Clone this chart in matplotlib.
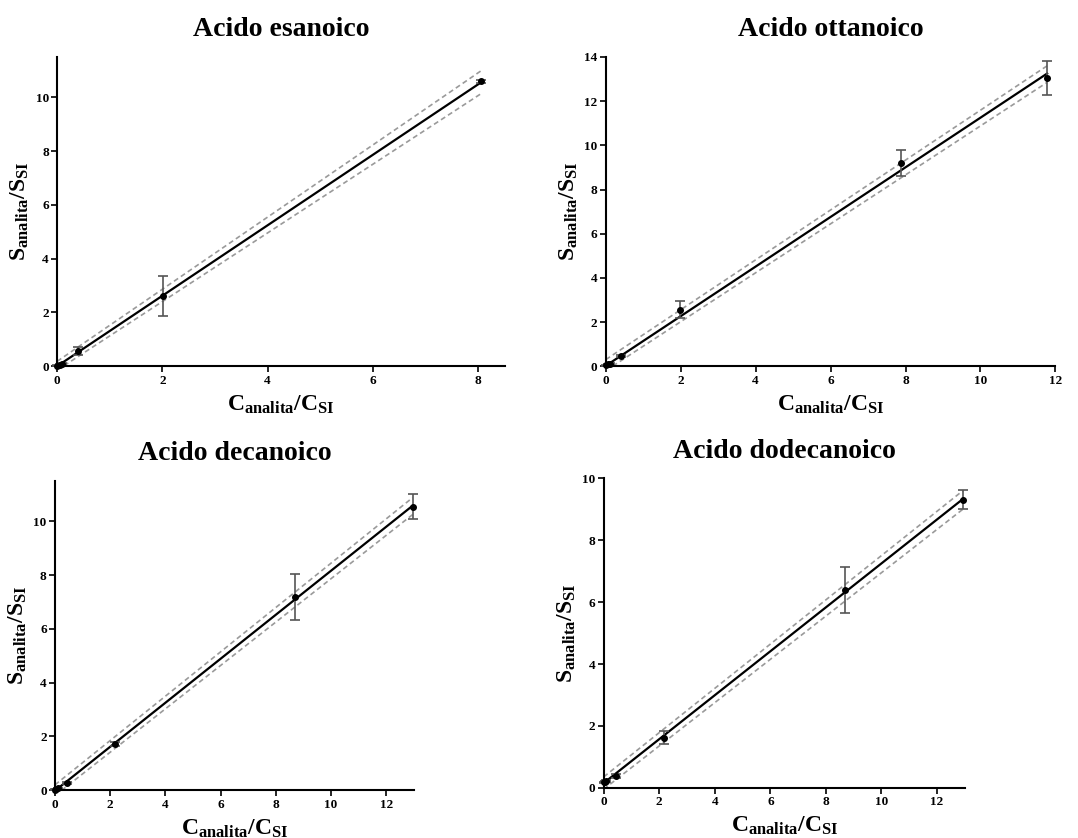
import matplotlib
matplotlib.use('Agg')
import matplotlib.pyplot as plt

plt.rcParams['font.family'] = 'Liberation Serif'
plt.rcParams['font.weight'] = 'bold'
plt.rcParams['mathtext.fontset'] = 'custom'
plt.rcParams['mathtext.rm'] = 'Liberation Serif:bold'
plt.rcParams['mathtext.bf'] = 'Liberation Serif:bold'
plt.rcParams['mathtext.it'] = 'Liberation Serif:bold'

# Data
titles = ['Acido esanoico', 'Acido ottanoico', 'Acido decanoico', 'Acido dodecanoico']

x_esa = [0, 0.05, 0.1, 0.4, 2.02, 8.05]
y_esa = [0.02, 0.06, 0.1, 0.55, 2.6, 10.6]
e_esa = [0.02, 0.02, 0.03, 0.15, 0.75, 0.05]
fit_esa = [0.0, 10.55]
up_esa = [0.18, 10.98]
lo_esa = [-0.15, 10.13]

x_ott = [0, 0.05, 0.1, 0.4, 1.98, 7.88, 11.78]
y_ott = [0.05, 0.08, 0.1, 0.45, 2.55, 9.2, 13.05]
e_ott = [0.02, 0.02, 0.03, 0.05, 0.38, 0.6, 0.78]
fit_ott = [0.02, 13.25]
up_ott = [0.3, 13.6]
lo_ott = [-0.2, 12.85]

x_dec = [0, 0.05, 0.1, 0.45, 2.18, 8.68, 12.95]
y_dec = [0.02, 0.04, 0.07, 0.28, 1.72, 7.18, 10.55]
e_dec = [0.01, 0.01, 0.02, 0.04, 0.06, 0.86, 0.48]
fit_dec = [-0.02, 10.58]
up_dec = [0.2, 10.88]
lo_dec = [-0.2, 10.25]

x_dod = [0, 0.05, 0.1, 0.45, 2.18, 8.68, 12.95]
y_dod = [0.18, 0.2, 0.22, 0.38, 1.62, 6.4, 9.32]
e_dod = [0.02, 0.02, 0.02, 0.05, 0.22, 0.75, 0.32]
fit_dod = [0.15, 9.35]
up_dod = [0.35, 9.62]
lo_dod = [-0.05, 9.02]

panels = [
    (x_esa, y_esa, e_esa, fit_esa, up_esa, lo_esa),
    (x_ott, y_ott, e_ott, fit_ott, up_ott, lo_ott),
    (x_dec, y_dec, e_dec, fit_dec, up_dec, lo_dec),
    (x_dod, y_dod, e_dod, fit_dod, up_dod, lo_dod),
]
xlims = [(0, 8.5), (0, 12), (0, 13), (0, 13)]
ylims = [(0, 11.5), (0, 14), (0, 11.5), (0, 10)]
xticks = [[0, 2, 4, 6, 8], [0, 2, 4, 6, 8, 10, 12], [0, 2, 4, 6, 8, 10, 12], [0, 2, 4, 6, 8, 10, 12]]
yticks = [[0, 2, 4, 6, 8, 10], [0, 2, 4, 6, 8, 10, 12, 14], [0, 2, 4, 6, 8, 10], [0, 2, 4, 6, 8, 10]]

# axes rectangles [left, bottom, width, height] in figure fraction
rects = [
    [0.053, 0.563, 0.415, 0.369],
    [0.562, 0.563, 0.417, 0.369],
    [0.051, 0.057, 0.333, 0.369],
    [0.560, 0.060, 0.335, 0.369],
]

fig = plt.figure(figsize=(10.78, 8.38), dpi=100)

for i, (x, y, e, fit, up, lo) in enumerate(panels):
    ax = fig.add_axes(rects[i])
    xr = [x[0], x[-1]]
    ax.plot(xr, up, ls=(0, (3, 2)), color='#9a9a9a', lw=1.2)
    ax.plot(xr, lo, ls=(0, (3, 2)), color='#9a9a9a', lw=1.2)
    ax.plot(xr, fit, color='black', lw=1.6)
    ax.errorbar(x, y, yerr=e, fmt='none', ecolor='#555555', elinewidth=1.2,
                capsize=3.5, capthick=1.2, clip_on=False)
    ax.plot(x, y, 'o', color='black', ms=4, clip_on=False, zorder=5)

    ax.set_xlim(*xlims[i])
    ax.set_ylim(*ylims[i])
    ax.set_xticks(xticks[i])
    ax.set_yticks(yticks[i])
    ax.spines['top'].set_visible(False)
    ax.spines['right'].set_visible(False)
    for s in ['left', 'bottom']:
        ax.spines[s].set_linewidth(1.5)
    ax.tick_params(direction='out', length=4, width=1.2, labelsize=9.5, pad=2)
    for lab in ax.get_xticklabels() + ax.get_yticklabels():
        lab.set_fontweight('bold')

    ax.set_title(titles[i], fontsize=20, fontweight='bold', pad=15)
    ax.set_xlabel(r'$\mathbf{C_{analita}/C_{SI}}$', fontsize=17, labelpad=5)
    ax.set_ylabel(r'$\mathbf{S_{analita}/S_{SI}}$', fontsize=17, labelpad=3)

fig.savefig('out.png', dpi=100)
